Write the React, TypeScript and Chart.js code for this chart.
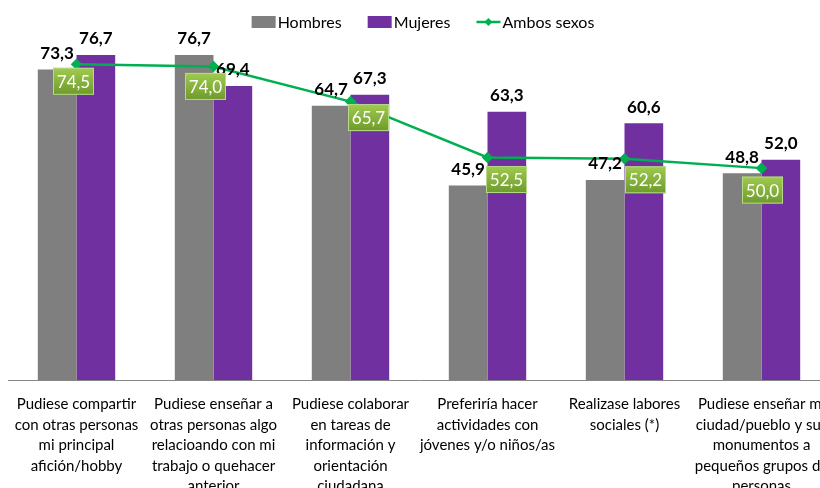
import React, { useEffect, useRef } from "react";
import { Chart, registerables } from "chart.js";

Chart.register(...registerables);

const categories: string[][] = [
  ["Pudiese compartir", "con otras personas", "mi principal", "afición/hobby"],
  ["Pudiese enseñar a", "otras personas algo", "relacioando con mi", "trabajo o quehacer", "anterior"],
  ["Pudiese colaborar", "en tareas de", "información y", "orientación", "ciudadana"],
  ["Preferiría hacer", "actividades con", "jóvenes y/o niños/as"],
  ["Realizase labores", "sociales (*)"],
  ["Pudiese enseñar mi", "ciudad/pueblo y sus", "monumentos a", "pequeños grupos de", "personas"],
];
const hombres = [73.3, 76.7, 64.7, 45.9, 47.2, 48.8];
const mujeres = [76.7, 69.4, 67.3, 63.3, 60.6, 52.0];
const ambos = [74.5, 74.0, 65.7, 52.5, 52.2, 50.0];
const seriesNames = ["Hombres", "Mujeres", "Ambos sexos"];

// label box offsets (dx, dy) relative to the line point
const ambosLabelOffsets = [
  [-3, 17],
  [-8, 20],
  [18, 16],
  [19, 22],
  [21, 21],
  [1, 22],
];

const FONT = "Lato, 'Open Sans', sans-serif";
const GREY = "#7f7f7f";
const PURPLE = "#7030a0";
const GREEN = "#00b050";

const fmt = (v: number) => v.toFixed(1).replace(".", ",");

const labelsPlugin = {
  id: "customLabels",
  afterDatasetsDraw(chart: any) {
    const ctx = chart.ctx;
    ctx.save();
    // bar labels
    [0, 1].forEach((di) => {
      const meta = chart.getDatasetMeta(di);
      const data = chart.data.datasets[di].data as number[];
      meta.data.forEach((el: any, i: number) => {
        ctx.font = `bold 17px ${FONT}`;
        ctx.fillStyle = "#000";
        ctx.textAlign = "center";
        ctx.textBaseline = "middle";
        ctx.fillText(fmt(data[i]), el.x, el.y - 16);
      });
    });
    // line labels
    const meta = chart.getDatasetMeta(2);
    const data = chart.data.datasets[2].data as number[];
    meta.data.forEach((el: any, i: number) => {
      const [dx, dy] = ambosLabelOffsets[i];
      const cx = el.x + dx;
      const cy = el.y + dy;
      const w = 41;
      const h = 27;
      const x0 = cx - w / 2;
      const y0 = cy - h / 2;
      const g = ctx.createLinearGradient(0, y0, 0, y0 + h);
      g.addColorStop(0, "#9fcb4f");
      g.addColorStop(1, "#6e9a2c");
      ctx.fillStyle = g;
      ctx.fillRect(x0, y0, w, h);
      ctx.strokeStyle = "#b8d98a";
      ctx.lineWidth = 1;
      ctx.strokeRect(x0 + 0.5, y0 + 0.5, w - 1, h - 1);
      ctx.font = `17px ${FONT}`;
      ctx.fillStyle = "#ffffff";
      ctx.textAlign = "center";
      ctx.textBaseline = "middle";
      ctx.fillText(fmt(data[i]), cx, cy + 1);
    });
    ctx.restore();
  },
  afterDraw(chart: any) {
    // legend
    const ctx = chart.ctx;
    ctx.save();
    ctx.font = `16px ${FONT}`;
    ctx.textBaseline = "middle";
    ctx.textAlign = "left";
    const cy = 14;
    const markerW = 24;
    const gapAfterMarker = 2;
    const gapBetween = 26;
    const widths = seriesNames.map((n) => ctx.measureText(n).width);
    const total =
      widths.reduce((a, b) => a + b, 0) +
      seriesNames.length * (markerW + gapAfterMarker) +
      (seriesNames.length - 1) * gapBetween;
    let x = 415 - total / 2;
    seriesNames.forEach((name, i) => {
      if (i === 0 || i === 1) {
        ctx.fillStyle = i === 0 ? GREY : PURPLE;
        ctx.fillRect(x, cy - 6, markerW, 12);
      } else {
        ctx.strokeStyle = GREEN;
        ctx.lineWidth = 2.5;
        ctx.beginPath();
        ctx.moveTo(x, cy);
        ctx.lineTo(x + markerW, cy);
        ctx.stroke();
        ctx.fillStyle = GREEN;
        const mx = x + markerW / 2;
        ctx.beginPath();
        ctx.moveTo(mx, cy - 4);
        ctx.lineTo(mx + 4, cy);
        ctx.lineTo(mx, cy + 4);
        ctx.lineTo(mx - 4, cy);
        ctx.closePath();
        ctx.fill();
      }
      x += markerW + gapAfterMarker;
      ctx.fillStyle = "#000";
      ctx.fillText(name, x, cy + 1);
      x += widths[i] + gapBetween;
    });
    ctx.restore();
  },
};

export default function App() {
  const ref = useRef<HTMLCanvasElement | null>(null);

  useEffect(() => {
    if (!ref.current) return;
    // the reference chart runs right up to the window's right edge
    const prevMargin = document.body.style.marginRight;
    document.body.style.marginRight = "0px";
    const chart = new Chart(ref.current, {
      type: "bar",
      data: {
        labels: categories,
        datasets: [
          {
            type: "bar",
            label: seriesNames[0],
            data: hombres,
            backgroundColor: GREY,
            borderWidth: 0,
            categoryPercentage: 0.565,
            barPercentage: 1,
            order: 2,
          },
          {
            type: "bar",
            label: seriesNames[1],
            data: mujeres,
            backgroundColor: PURPLE,
            borderWidth: 0,
            categoryPercentage: 0.565,
            barPercentage: 1,
            order: 2,
          },
          {
            type: "line",
            label: seriesNames[2],
            data: ambos,
            borderColor: GREEN,
            backgroundColor: GREEN,
            borderWidth: 2.5,
            pointStyle: "rectRot",
            pointRadius: 4,
            pointBackgroundColor: GREEN,
            pointBorderColor: GREEN,
            tension: 0,
            order: 0,
          } as any,
        ],
      },
      options: {
        responsive: false,
        animation: false,
        events: [],
        layout: { autoPadding: false, padding: { top: 33, left: 0, right: 0, bottom: 0 } },
        plugins: {
          legend: { display: false },
          tooltip: { enabled: false },
        },
        scales: {
          x: {
            grid: { display: false, drawTicks: false },
            border: { display: true, color: "#868686", width: 1 },
            ticks: {
              autoSkip: false,
              maxRotation: 0,
              minRotation: 0,
              color: "#000",
              padding: 14,
              font: { family: FONT, size: 15, lineHeight: 1.37 },
            },
            afterFit(scale: any) {
              scale.height = 108;
              scale.paddingLeft = 0;
              scale.paddingRight = 0;
            },
          },
          y: {
            display: false,
            min: 0,
            max: 80,
          },
        },
      } as any,
      plugins: [labelsPlugin],
    });
    return () => {
      chart.destroy();
      document.body.style.marginRight = prevMargin;
    };
  }, []);

  return (
    <div style={{ width: 812, height: 480, overflow: "hidden" }}>
      <canvas ref={ref} width={822} height={480} style={{ width: 822, height: 480, display: "block" }} />
    </div>
  );
}
